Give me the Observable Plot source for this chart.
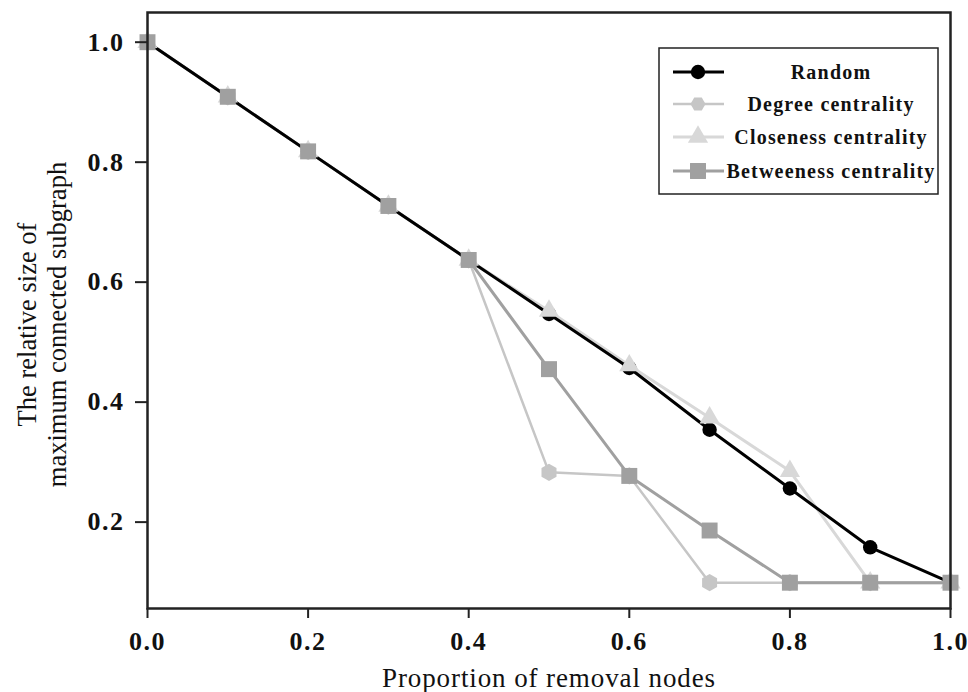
<!DOCTYPE html>
<html>
<head>
<meta charset="utf-8">
<script src="https://cdn.jsdelivr.net/npm/d3@7"></script>
<script src="https://cdn.jsdelivr.net/npm/@observablehq/plot@0.6"></script>
<style>
  html, body { margin: 0; padding: 0; background: #fff; }
  #chart { width: 968px; height: 692px; }
</style>
</head>
<body>
<div id="chart"></div>
<script>
// ---- data ----
const proportion = [0.0, 0.1, 0.2, 0.3, 0.4, 0.5, 0.6, 0.7, 0.8, 0.9, 1.0];
const randomVals = [1.0, 0.909, 0.818, 0.727, 0.637, 0.547, 0.457, 0.354, 0.256, 0.158, 0.099];
const degreeVals = [1.0, 0.909, 0.818, 0.727, 0.637, 0.283, 0.277, 0.099, 0.099, 0.099, 0.099];
const closenessVals = [1.0, 0.909, 0.818, 0.727, 0.637, 0.552, 0.461, 0.374, 0.285, 0.099, 0.099];
const betweennessVals = [1.0, 0.909, 0.818, 0.727, 0.637, 0.455, 0.277, 0.186, 0.099, 0.099, 0.099];
const seriesNames = ["Random", "Degree centrality", "Closeness centrality", "Betweeness centrality"];
const xTicks = [0.0, 0.2, 0.4, 0.6, 0.8, 1.0];
const yTicks = [0.2, 0.4, 0.6, 0.8, 1.0];
const xLabel = "Proportion of removal nodes";
const yLabel = "The relative size of\nmaximum connected subgraph";

// ---- styles ----
const styles = {
  "Random": {stroke: "#000000", fill: "#000000", symbol: "circle", r: 7.2, sw: 3},
  "Degree centrality": {stroke: "#c6c6c6", fill: "#c6c6c6", symbol: "hexagon", r: 7.5, sw: 2.5},
  "Closeness centrality": {stroke: "#d8d8d8", fill: "#d8d8d8", symbol: "triangle", r: 7.5, sw: 3},
  "Betweeness centrality": {stroke: "#a0a0a0", fill: "#a0a0a0", symbol: "square", r: 9, sw: 3}
};
const valuesBySeries = {
  "Random": randomVals,
  "Degree centrality": degreeVals,
  "Closeness centrality": closenessVals,
  "Betweeness centrality": betweennessVals
};
const table = name => proportion.map((x, i) => ({x, y: valuesBySeries[name][i], series: name}));

const lineOrder = ["Degree centrality", "Closeness centrality", "Betweeness centrality", "Random"];
const dotOrder = ["Degree centrality", "Random", "Closeness centrality", "Betweeness centrality"];

const serif = "Liberation Serif, Times New Roman, serif";

const marks = [];
for (const name of lineOrder) {
  const s = styles[name];
  marks.push(Plot.line(table(name), {x: "x", y: "y", stroke: s.stroke, strokeWidth: s.sw}));
}
for (const name of dotOrder) {
  const s = styles[name];
  marks.push(Plot.dot(table(name), {x: "x", y: "y", fill: s.fill, stroke: "none", symbol: s.symbol, r: s.r}));
}
marks.push(Plot.frame({stroke: "#222", strokeWidth: 2.5}));
marks.push(Plot.axisX({ticks: xTicks, tickFormat: d3.format(".1f"), tickSize: 10, tickPadding: 13,
  label: null, stroke: "#222", strokeWidth: 2}));
marks.push(Plot.axisY({ticks: yTicks, tickFormat: d3.format(".1f"), tickSize: 12, tickPadding: 11,
  label: null, stroke: "#222", strokeWidth: 2}));
marks.push(Plot.text([xLabel], {frameAnchor: "bottom", dy: 78, fontSize: 27, text: d => d}));
marks.push(Plot.text([yLabel], {frameAnchor: "left", textAnchor: "middle", dx: -106, dy: 14, rotate: -90,
  fontSize: 26.5, lineHeight: 1.15, text: d => d}));

const chart = Plot.plot({
  width: 968,
  height: 692,
  marginLeft: 147,
  marginRight: 18,
  marginTop: 12,
  marginBottom: 84,
  x: {domain: [0, 1]},
  y: {domain: [0.056, 1.0495]},
  style: {fontFamily: serif, color: "#111", background: "#fff"},
  marks
});

const svg = d3.select(chart);
// tick labels: large bold serif, slightly spaced like the original
svg.selectAll('g[aria-label="x-axis tick label"], g[aria-label="y-axis tick label"]')
  .style("font-size", "26px").style("font-weight", "bold").style("font-family", serif);
svg.selectAll('g[aria-label="x-axis tick label"] text, g[aria-label="y-axis tick label"] text')
  .style("font-size", "26px").style("font-weight", "bold").attr("letter-spacing", "1.5px");
// x label gets a little tracking
svg.selectAll('g[aria-label="text"] text').filter(function() { return this.textContent === xLabel; })
  .attr("letter-spacing", "0.9px");

// ---- legend (inside plot, top right) ----
const lg = svg.append("g").style("font-family", serif);
const box = {x0: 659, y0: 48, x1: 938, y1: 194};
lg.append("rect").attr("x", box.x0).attr("y", box.y0)
  .attr("width", box.x1 - box.x0).attr("height", box.y1 - box.y0)
  .attr("fill", "#fff").attr("stroke", "#222").attr("stroke-width", 1.5);
const rowY = [72, 104, 137, 171];
const sampleX0 = 673, sampleX1 = 724, markerX = 698, textCenter = 831;
seriesNames.forEach((name, i) => {
  const s = styles[name];
  const y = rowY[i];
  lg.append("line").attr("x1", sampleX0).attr("x2", sampleX1).attr("y1", y).attr("y2", y)
    .attr("stroke", s.stroke).attr("stroke-width", s.sw);
  if (s.symbol === "hexagon") {
    const rr = s.r;
    const pts = d3.range(6).map(k => {
      const a = Math.PI / 3 * k;
      return [markerX + rr * Math.cos(a), y + rr * Math.sin(a)];
    });
    lg.append("path").attr("d", "M" + pts.join("L") + "Z").attr("fill", s.fill);
  } else {
    const sym = {circle: d3.symbolCircle, triangle: d3.symbolTriangle, square: d3.symbolSquare}[s.symbol];
    lg.append("path").attr("transform", `translate(${markerX},${y})`)
      .attr("d", d3.symbol(sym, Math.PI * s.r * s.r)()).attr("fill", s.fill);
  }
  lg.append("text").attr("x", textCenter).attr("y", y).attr("dy", "0.35em")
    .attr("text-anchor", "middle").style("font-weight", "bold").style("font-size", "20px")
    .attr("letter-spacing", "1.2px").attr("fill", "#111").text(name);
});

document.getElementById("chart").appendChild(chart);
</script>
</body>
</html>
